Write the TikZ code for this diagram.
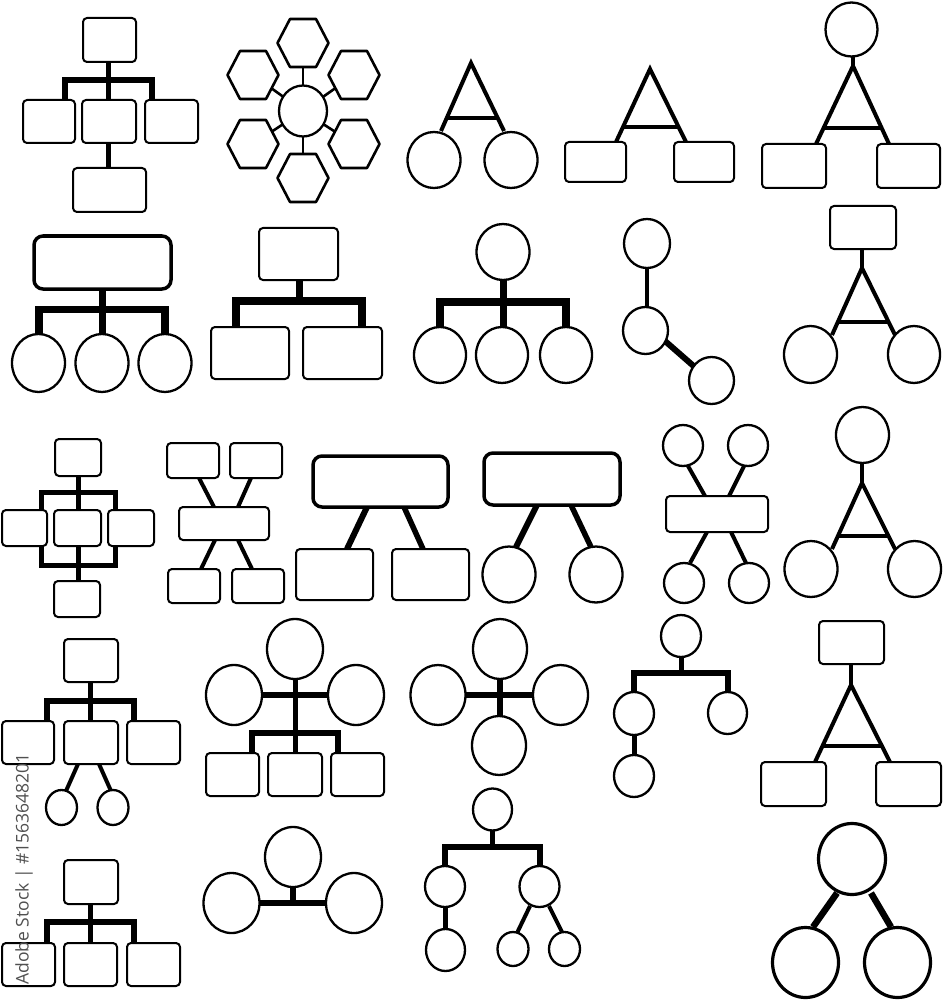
\documentclass[tikz,border=0pt]{standalone}
\usepackage{fontspec}
\newfontfamily\wmfont{Open Sans}
\definecolor{wmgray}{RGB}{80,80,80}
\tikzset{
 bx/.style={draw=black, fill=white, line width=2pt, rounded corners=4pt},
 bigbx/.style={draw=black, fill=white, line width=3.5pt, rounded corners=9pt},
 ci/.style={draw=black, fill=white, line width=2.3pt},
 bigci/.style={draw=black, fill=white, line width=3.2pt},
 hexst/.style={draw=black, fill=white, line width=2.6pt, line join=round},
 bus/.style={draw=black, line width=6.5pt, line join=miter, line cap=butt},
 stem/.style={draw=black, line width=5pt, line cap=butt},
 leg/.style={draw=black, line width=4pt, line join=miter, line cap=butt},
 thinln/.style={draw=black, line width=2.6pt},
}
\newcommand\Bx[4]{\draw[bx] (#1,#2) rectangle (#3,#4);}
\newcommand\BBx[4]{\draw[bigbx] (#1,#2) rectangle (#3,#4);}
\newcommand\Ci[4]{\draw[ci] (#1,#2) ellipse [x radius=#3pt, y radius=#4pt];}
\newcommand\BCi[4]{\draw[bigci] (#1,#2) ellipse [x radius=#3pt, y radius=#4pt];}
\newcommand\Hx[2]{\draw[hexst, shift={(#1,#2)}] (-25.5,0) -- (-13,-24) -- (13,-24) -- (25.5,0) -- (13,24) -- (-13,24) -- cycle;}
\begin{document}
\begin{tikzpicture}[x=1pt,y=-1pt]
\useasboundingbox (0,0) rectangle (942,1000);
\fill[white] (0,0) rectangle (942,1000);

% ---------- Icon 1: org chart with 5 boxes ----------
\draw[stem] (108,62) -- (108,100);
\draw[bus] (65,100) -- (65,80) -- (152,80) -- (152,100);
\draw[stem] (108,143) -- (108,168);
\Bx{83}{18}{136}{62}
\Bx{23}{100}{75}{143}
\Bx{82}{100}{136}{143}
\Bx{145}{100}{198}{143}
\Bx{73}{168}{146}{212}

% ---------- Icon 2: hexagons around circle ----------
\foreach \hx/\hy in {303/43, 253/75, 354/75, 253/144, 354/144, 303/178}
  \draw[thinln] (303,111) -- (\hx,\hy);
\Hx{303}{43}
\Hx{253}{75}
\Hx{354}{75}
\Hx{253}{144}
\Hx{354}{144}
\Hx{303}{178}
\Ci{303}{111}{24}{25.5}

% ---------- Icon 3: triangle + 2 circles ----------
\draw[leg] (441,131) -- (471,63) -- (504,131);
\draw[leg, line width=3.5pt] (447,118) -- (498,118);
\Ci{434}{160}{26.5}{28}
\Ci{511}{160}{26.5}{28}

% ---------- Icon 4: triangle + 2 boxes ----------
\draw[leg] (616,142) -- (650,69) -- (686,142);
\draw[leg, line width=3.5pt] (623,127) -- (677,127);
\Bx{565}{142}{626}{182}
\Bx{674}{142}{734}{182}

% ---------- Icon 5: circle, triangle, 2 boxes ----------
\draw[leg] (853,57) -- (853,66);
\draw[leg] (816,144) -- (853,66) -- (889,144);
\draw[leg, line width=3.5pt] (823,128) -- (882,128);
\Ci{851.5}{29.5}{26}{27}
\Bx{762}{144}{826}{188}
\Bx{877}{144}{940}{188}

% ---------- Icon 6: big box + 3 circles ----------
\draw[stem, line width=7pt] (102,289) -- (102,334);
\draw[bus, line width=7.5pt] (39,334) -- (39,309.5) -- (165,309.5) -- (165,334);
\BBx{34}{236}{171}{289}
\Ci{38.5}{363}{26.5}{29}
\Ci{102}{363}{26.5}{29}
\Ci{165}{363}{26.5}{29}

% ---------- Icon 7: box + 2 boxes ----------
\draw[stem, line width=7pt] (299,280) -- (299,301);
\draw[bus, line width=7.5pt] (236,327) -- (236,301) -- (362,301) -- (362,327);
\Bx{259}{228}{338}{280}
\Bx{211}{327}{289}{379}
\Bx{303}{327}{382}{379}

% ---------- Icon 8: circle + 3 circles ----------
\draw[stem, line width=7pt] (503,280) -- (503,327);
\draw[bus, line width=7.5pt] (440,327) -- (440,302) -- (566,302) -- (566,327);
\Ci{503}{252}{26.5}{28}
\Ci{440}{355}{26}{28}
\Ci{502}{355}{26}{28}
\Ci{566}{355}{26}{28}

% ---------- Icon 9: chain of 3 circles ----------
\draw[leg] (646.5,255) -- (646.5,318);
\draw[leg, line width=6pt] (665,341) -- (697,369);
\Ci{647}{243.5}{23}{24.5}
\Ci{645.5}{330.5}{22.5}{23.5}
\Ci{711.5}{380.5}{22.5}{23.5}

% ---------- Icon 10: box, triangle, 2 circles ----------
\draw[leg] (862,249) -- (862,268);
\draw[leg] (832,335) -- (862,268) -- (895,335);
\draw[leg, line width=3.5pt] (837,322) -- (888,322);
\Bx{830}{206}{896}{249}
\Ci{810.5}{354.5}{26.5}{28.5}
\Ci{914}{354.5}{26}{28.5}

% ---------- Icon 11: framed box grid ----------
\draw[stem] (78,476) -- (78,510);
\draw[draw=black, line width=5pt] (41,492) rectangle (115,565);
\draw[stem] (78,546) -- (78,581);
\Bx{55}{439}{101}{476}
\Bx{2}{510}{47}{546}
\Bx{54}{510}{101}{546}
\Bx{108}{510}{154}{546}
\Bx{54}{581}{100}{617}

% ---------- Icon 12: X of boxes ----------
\draw[leg] (199,478) -- (214,507);
\draw[leg] (251,478) -- (238,507);
\draw[leg] (215,540) -- (201,569);
\draw[leg] (238,540) -- (252,569);
\Bx{167}{443}{219}{478}
\Bx{230}{443}{282}{478}
\Bx{179}{507}{269}{540}
\Bx{168}{569}{220}{603}
\Bx{232}{569}{284}{603}

% ---------- Icon 13: big box + 2 boxes ----------
\draw[leg, line width=6pt] (367,507) -- (347,549);
\draw[leg, line width=5.5pt] (404,507) -- (423,549);
\BBx{313}{456}{448}{507}
\Bx{296}{549}{373}{600}
\Bx{392}{549}{469}{600}

% ---------- Icon 14: big box + 2 circles ----------
\draw[leg, line width=6pt] (537,505) -- (516,547);
\draw[leg, line width=5.5pt] (571,505) -- (591,547);
\BBx{484}{453}{620}{505}
\Ci{509}{574.5}{26.5}{28}
\Ci{596}{574.5}{26.5}{28}

% ---------- Icon 15: X of circles ----------
\draw[leg] (688,466) -- (705,496);
\draw[leg] (744,466) -- (729,496);
\draw[leg] (707,532) -- (690,563);
\draw[leg] (731,532) -- (746,563);
\Ci{683}{445.5}{20}{20.5}
\Ci{748}{445.5}{20}{20.5}
\Bx{666}{496}{768}{532}
\Ci{684}{583}{20}{20}
\Ci{749}{583}{20}{20}

% ---------- Icon 16: circle, triangle, 2 circles ----------
\draw[leg] (862,463) -- (862,483);
\draw[leg] (832,549) -- (862,483) -- (895,549);
\draw[leg, line width=3.5pt] (837,536) -- (888,536);
\Ci{862.5}{435}{26.5}{28}
\Ci{811}{569}{26.5}{28}
\Ci{914.5}{569}{26.5}{28}

% ---------- Icon 17: org chart with 2 small circles ----------
\draw[stem] (90,682) -- (90,721);
\draw[bus, line width=5.5pt] (47,721) -- (47,701) -- (134,701) -- (134,721);
\draw[leg] (78,764) -- (66,791);
\draw[leg] (99,764) -- (111,791);
\Bx{64}{639}{118}{682}
\Bx{2}{721}{54}{764}
\Bx{64}{721}{118}{764}
\Bx{127}{721}{180}{764}
\Ci{61.5}{807.5}{15.5}{17.5}
\Ci{113}{807.5}{15.5}{17.5}

% ---------- Icon 18: 3 circles + 3 boxes ----------
\draw[stem, line width=5.5pt] (234,695) -- (356,695);
\draw[stem] (295,679) -- (295,753);
\draw[bus, line width=6pt] (252,753) -- (252,733) -- (338,733) -- (338,753);
\Ci{295}{649}{28}{30}
\Ci{234}{695}{28}{30}
\Ci{356}{695}{28}{30}
\Bx{206}{753}{259}{796}
\Bx{268}{753}{322}{796}
\Bx{331}{753}{384}{796}

% ---------- Icon 19: cross of 4 circles ----------
\draw[stem, line width=5.5pt] (438,695) -- (560,695);
\draw[stem, line width=5.5pt] (500,649) -- (500,745);
\Ci{500}{649}{27}{30}
\Ci{438}{695}{27.5}{30}
\Ci{560.5}{695}{27.5}{30}
\Ci{499}{745.5}{27}{29.5}

% ---------- Icon 20: tree of circles ----------
\draw[stem] (681,657) -- (681,673);
\draw[bus, line width=5.5pt] (634,692) -- (634,673) -- (728,673) -- (728,692);
\draw[stem] (634,735) -- (634,755);
\Ci{681}{636}{20}{21}
\Ci{634}{713.5}{20}{21.5}
\Ci{634}{776}{20}{21}
\Ci{727.5}{713}{19.5}{21}

% ---------- Icon 21: box, triangle, 2 boxes ----------
\draw[leg] (851,664) -- (851,685);
\draw[leg] (815,762) -- (851,685) -- (890,762);
\draw[leg, line width=3.5pt] (823,746) -- (881,746);
\Bx{819}{621}{884}{664}
\Bx{761}{762}{826}{806}
\Bx{876}{762}{941}{806}

% ---------- Icon 22: box + 3 boxes ----------
\draw[stem] (90,904) -- (90,943);
\draw[bus, line width=6pt] (47,943) -- (47,922) -- (134,922) -- (134,943);
\Bx{64}{860}{118}{904}
\Bx{2}{943}{55}{986}
\Bx{64}{943}{117}{986}
\Bx{127}{943}{180}{986}

% ---------- Icon 23: 3 circles ----------
\draw[stem, line width=6pt] (293,887) -- (293,903);
\draw[stem, line width=6pt] (231.5,903) -- (354,903);
\Ci{293}{857}{28}{30}
\Ci{231.5}{903}{28}{30}
\Ci{354}{903}{28}{30}

% ---------- Icon 24: tree of 6 circles ----------
\draw[stem] (492,831) -- (492,847);
\draw[bus, line width=6pt] (445,866) -- (445,847) -- (539.5,847) -- (539.5,866);
\draw[stem] (445,907) -- (445,929);
\draw[leg] (530,906) -- (517.5,932);
\draw[leg] (549,906) -- (562,932);
\Ci{492.5}{809.5}{19.5}{21}
\Ci{445}{886.5}{20}{20.5}
\Ci{539.5}{886.5}{20}{20.5}
\Ci{445.5}{950}{19.5}{21}
\Ci{513}{949}{15.5}{17}
\Ci{564.5}{949}{15.5}{17}

% ---------- Icon 25: big circle + 2 big circles ----------
\draw[leg, line width=6.5pt] (837,893) -- (813,927);
\draw[leg, line width=6.5pt] (871,893) -- (891,927);
\BCi{852}{859}{33.5}{35.5}
\BCi{805.5}{962.5}{33}{35}
\BCi{897.5}{962.5}{33}{35}

% ---------- vertical stock label ----------
\node[rotate=90, text=wmgray, inner sep=0pt, font=\wmfont\fontsize{17.5}{17.5}\selectfont] (stocklabel) at (24,869) {Adobe Stock | \#1563648201};
\end{tikzpicture}
\end{document}
